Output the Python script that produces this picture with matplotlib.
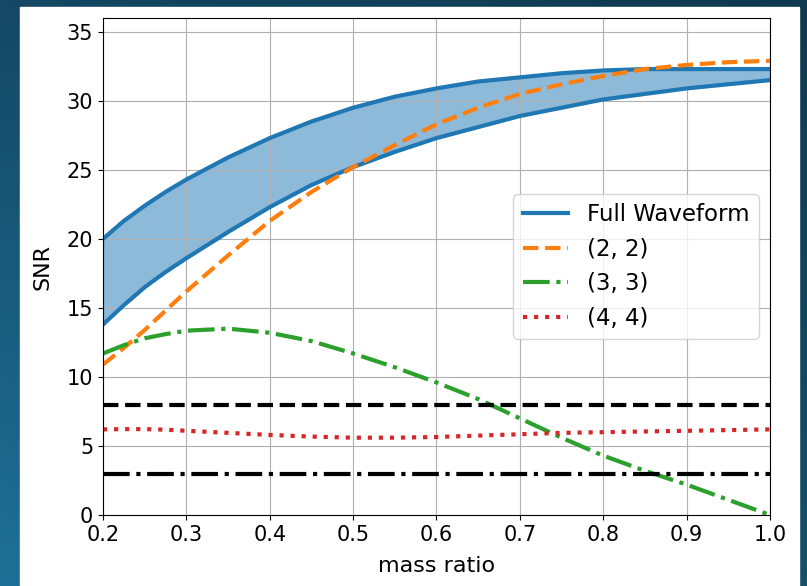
import numpy as np
import matplotlib
matplotlib.use('Agg')
import matplotlib.pyplot as plt
from matplotlib.patches import Rectangle

# mass ratio grid
q = [0.2, 0.225, 0.25, 0.275, 0.3, 0.35, 0.4, 0.45, 0.5, 0.55, 0.6, 0.65, 0.7, 0.75, 0.8, 0.85, 0.9, 0.95, 1.0]

# Full waveform band (upper / lower)
full_upper = [20.0, 21.3, 22.4, 23.4, 24.3, 25.9, 27.3, 28.5, 29.5, 30.3, 30.9, 31.4, 31.7, 32.0, 32.2, 32.3, 32.3, 32.3, 32.3]
full_lower = [13.8, 15.2, 16.5, 17.6, 18.6, 20.5, 22.3, 23.9, 25.2, 26.3, 27.3, 28.1, 28.9, 29.5, 30.1, 30.5, 30.9, 31.2, 31.5]

# individual modes
snr_22 = [10.9, 12.1, 13.4, 14.8, 16.2, 18.8, 21.3, 23.4, 25.2, 26.8, 28.3, 29.5, 30.5, 31.2, 31.8, 32.3, 32.6, 32.8, 32.9]
snr_33 = [11.7, 12.3, 12.8, 13.1, 13.35, 13.5, 13.2, 12.6, 11.7, 10.7, 9.6, 8.4, 7.0, 5.6, 4.3, 3.2, 2.2, 1.1, 0.0]
snr_44 = [6.2, 6.22, 6.22, 6.18, 6.1, 5.95, 5.8, 5.68, 5.6, 5.6, 5.65, 5.75, 5.85, 5.95, 6.0, 6.05, 6.1, 6.15, 6.2]

thresholds = [8, 3]

fig = plt.figure(figsize=(8.07, 5.86), dpi=100)

# slide-like gradient background
bg = fig.add_axes([0, 0, 1, 1], zorder=-10)
xx, yy = np.meshgrid(np.linspace(0, 1, 200), np.linspace(0, 1, 200))
tl = np.array([0x14, 0x48, 0x64]) / 255.
tr = np.array([0x0e, 0x39, 0x50]) / 255.
bl = np.array([0x1f, 0x70, 0x96]) / 255.
br = np.array([0x15, 0x50, 0x6c]) / 255.
grad = ((1 - xx)[..., None] * (1 - yy)[..., None] * tl + xx[..., None] * (1 - yy)[..., None] * tr
        + (1 - xx)[..., None] * yy[..., None] * bl + xx[..., None] * yy[..., None] * br)
bg.imshow(grad, aspect='auto', extent=[0, 1, 0, 1])
bg.add_patch(Rectangle((20 / 807, 0), (799 - 20) / 807, 1 - 7 / 586, color='white', zorder=5))
bg.set_xlim(0, 1)
bg.set_ylim(0, 1)
bg.axis('off')

ax = fig.add_axes([103 / 807, 1 - 515 / 586, (770 - 103) / 807, (515 - 18) / 586])

ax.fill_between(q, full_lower, full_upper, color='C0', alpha=0.5)
ax.plot(q, full_upper, color='C0', lw=3, label='Full Waveform')
ax.plot(q, full_lower, color='C0', lw=3)
ax.plot(q, snr_22, color='C1', lw=3, ls='--', label='(2, 2)')
ax.plot(q, snr_33, color='C2', lw=3, ls='-.', label='(3, 3)')
ax.plot(q, snr_44, color='C3', lw=3, ls=':', label='(4, 4)')
ax.axhline(thresholds[0], color='k', lw=3, ls='--')
ax.axhline(thresholds[1], color='k', lw=3, ls='-.')

ax.set_xlim(0.2, 1.0)
ax.set_ylim(0, 36)
ax.set_xticks(np.arange(0.2, 1.01, 0.1))
ax.set_yticks(np.arange(0, 36, 5))
ax.tick_params(labelsize=15)
ax.set_xlabel('mass ratio', fontsize=16, labelpad=8)
ax.set_ylabel('SNR', fontsize=16, labelpad=10)
ax.grid(True)
ax.legend(loc='center right', fontsize=16.5)

fig.savefig('out.png', dpi=100)
